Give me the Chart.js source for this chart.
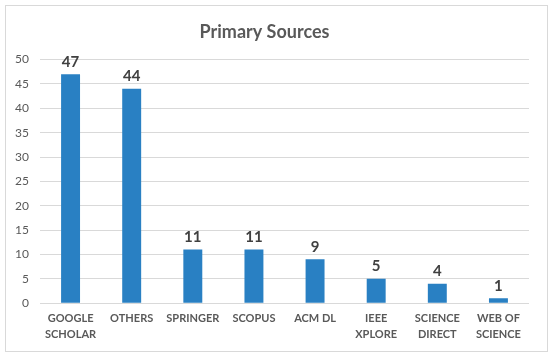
<!DOCTYPE html>
<html>
<head>
<meta charset="utf-8">
<title>Primary Sources</title>
<style>
  html, body { margin: 0; padding: 0; background: #fff; }
  #wrap { position: relative; width: 550px; height: 359px; }
  #myChart { display: block; }
  #frame { position: absolute; left: 5px; top: 5px; width: 541px; height: 345px;
           border: 1px solid #d9d9d9; pointer-events: none; }
</style>
</head>
<body>
<div id="wrap">
  <canvas id="myChart" width="550" height="359"></canvas>
  <div id="frame"></div>
</div>
<script src="https://cdn.jsdelivr.net/npm/chart.js"></script>
<script>
// data
const categories = [
  ['GOOGLE', 'SCHOLAR'], 'OTHERS', 'SPRINGER', 'SCOPUS', 'ACM DL',
  ['IEEE', 'XPLORE'], ['SCIENCE', 'DIRECT'], ['WEB OF', 'SCIENCE']
];
const counts = [47, 44, 11, 11, 9, 5, 4, 1];
const yTicks = [0, 5, 10, 15, 20, 25, 30, 35, 40, 45, 50];

const FONT = 'Lato, "Open Sans", sans-serif';

// numbers on top of bars
const barLabels = {
  id: 'barLabels',
  afterDatasetsDraw(chart) {
    const c = chart.ctx;
    const meta = chart.getDatasetMeta(0);
    c.save();
    c.font = 'bold 15px ' + FONT;
    c.fillStyle = '#404040';
    c.textAlign = 'center';
    c.textBaseline = 'bottom';
    meta.data.forEach((bar, i) => {
      c.fillText(String(counts[i]), bar.x, bar.y - 5);
    });
    c.restore();
  }
};

const ctx = document.getElementById('myChart').getContext('2d');
new Chart(ctx, {
  type: 'bar',
  data: {
    labels: categories,
    datasets: [{
      label: 'Primary Sources',
      data: counts,
      backgroundColor: '#2980c3',
      barPercentage: 0.31,
      categoryPercentage: 1.0
    }]
  },
  options: {
    responsive: false,
    animation: false,
    layout: { padding: { left: 0, right: 21, top: 10, bottom: 9 } },
    plugins: {
      legend: { display: false },
      tooltip: { enabled: false },
      title: {
        display: true,
        text: 'Primary Sources',
        color: '#595959',
        font: { family: FONT, size: 18, weight: 'bold', lineHeight: 1.2 },
        padding: { top: 11, bottom: 17 }
      }
    },
    scales: {
      x: {
        grid: { display: false, drawTicks: false },
        border: { display: false },
        ticks: {
          color: '#595959',
          padding: 8,
          maxRotation: 0,
          autoSkip: false,
          font: { family: FONT, size: 11, weight: 'bold', lineHeight: 1.4 }
        }
      },
      y: {
        min: 0,
        max: 50,
        afterBuildTicks(scale) { scale.ticks = yTicks.map(v => ({ value: v })); },
        afterFit(scale) { scale.width = 40; },
        grid: { color: '#d9d9d9', drawTicks: false },
        border: { display: false },
        ticks: {
          color: '#595959',
          padding: 11,
          font: { family: FONT, size: 12 }
        }
      }
    }
  },
  plugins: [barLabels]
});
</script>
</body>
</html>
